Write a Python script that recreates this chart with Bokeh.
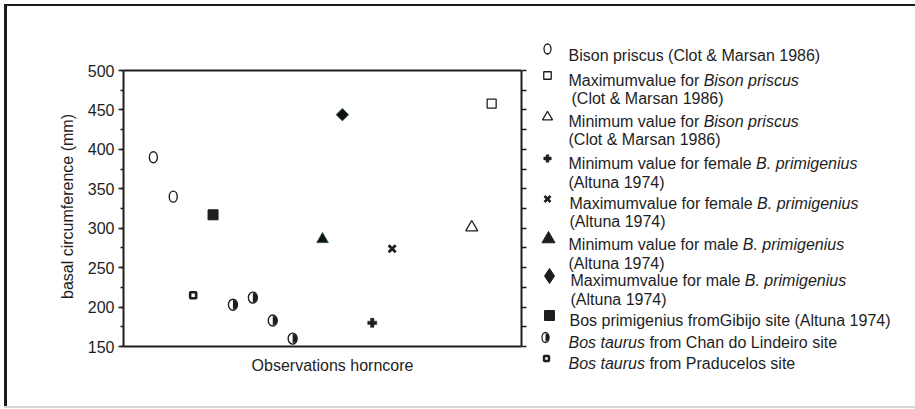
import numpy as np
from bokeh.plotting import figure
from bokeh.models import (Range1d, LinearAxis, SingleIntervalTicker, Span, Spacer, Div,
                          CustomJSTickFormatter)
from bokeh.layouts import row, column
from bokeh.embed import file_html
from bokeh.resources import INLINE
from bokeh.core.properties import value

# ---------------- data ----------------
bison_x = [1, 2]
bison_y = [390, 340]
praducelos_x = [3]
praducelos_y = [215]
gibijo_x = [4]
gibijo_y = [317]
lindeiro_x = [5, 6, 7, 8]
lindeiro_y = [203, 212, 183, 160]
male_min_x = [9.5]
male_min_y = [286]
male_max_x = [10.5]
male_max_y = [444]
female_min_x = [12]
female_min_y = [180]
female_max_x = [13]
female_max_y = [274]
bison_min_x = [17]
bison_min_y = [301]
bison_max_x = [18]
bison_max_y = [458]

Y_MIN, Y_MAX = 150, 500
X_MIN, X_MAX = -0.5, 19.5
y_label = "basal circumference (mm)"
x_label = "Observations horncore"

legend_lines = [
    [("Bison priscus (Clot & Marsan 1986)", False)],
    [("Maximumvalue for ", False), ("Bison priscus", True)],
    [("(Clot & Marsan 1986)", False)],
    [("Minimum value for ", False), ("Bison priscus", True)],
    [("(Clot & Marsan 1986)", False)],
    [("Minimum value for female ", False), ("B. primigenius", True)],
    [("(Altuna 1974)", False)],
    [("Maximumvalue for female ", False), ("B. primigenius", True)],
    [("(Altuna 1974)", False)],
    [("Minimum value for male ", False), ("B. primigenius", True)],
    [("(Altuna 1974)", False)],
    [("Maximumvalue for male ", False), ("B. primigenius", True)],
    [("(Altuna 1974)", False)],
    [("Bos primigenius fromGibijo site (Altuna 1974)", False)],
    [("Bos taurus", True), (" from Chan do Lindeiro site", False)],
    [("Bos taurus", True), (" from Praducelos site", False)],
]

# ---------------- style / layout (page pixel geometry) ----------------
FONT = "Liberation Sans"
INK = "#1e1e1e"
DARK = "#1c1c1c"
GREY = "#d6d6d6"
EDGE = "#17705a"
FS = "16px"

PX0, PY0 = 4, 4            # page position of the outer frame
BAR_T, BAR_L, BAR_B = 2, 3, 2
ROW_H = 400
MAIN_X1 = 530              # page x where the legend panel starts
TOTAL_W = 911
FR_L, FR_R, FR_T, FR_B = 123, 521, 70, 346   # plot box in page pixels

row_top = PY0 + BAR_T
row_bot = row_top + ROW_H
main_x0 = PX0 + BAR_L

k = (FR_B - FR_T) / (Y_MAX - Y_MIN)
y_top = Y_MAX + (FR_T - row_top) / k
y_bot = Y_MIN - (row_bot - FR_B) / k
kx = (FR_R - FR_L) / (X_MAX - X_MIN)


def px2x(px):
    return X_MIN + (px - FR_L) / kx


def py2y(py):
    return Y_MAX - (py - FR_T) / k


def bar(w, h, color):
    return Div(text="", width=w, height=h,
               styles={"background-color": color, "width": f"{w}px", "height": f"{h}px",
                       "min-height": f"{h}px", "overflow": "hidden", "padding": "0",
                       "margin": "0", "line-height": "0", "font-size": "0"})


p = figure(width=MAIN_X1 - main_x0, height=ROW_H, x_range=Range1d(X_MIN, X_MAX),
           y_range=Range1d(y_bot, y_top), output_backend="svg", toolbar_location=None,
           x_axis_location=None, y_axis_location="left",
           min_border_left=FR_L - main_x0, min_border_right=MAIN_X1 - FR_R,
           min_border_top=0, min_border_bottom=0)
p.grid.visible = False
p.outline_line_color = None
p.background_fill_color = "white"
p.border_fill_color = "white"

ya = p.yaxis[0]
ya.bounds = (Y_MIN, Y_MAX)
ya.ticker = SingleIntervalTicker(interval=50, num_minor_ticks=2)
ya.axis_line_color = INK
ya.axis_line_width = 2
ya.major_tick_out = 5
ya.major_tick_in = 0
ya.minor_tick_out = 3
ya.minor_tick_in = 0
ya.major_tick_line_color = INK
ya.minor_tick_line_color = INK
ya.major_tick_line_width = 1.5
ya.minor_tick_line_width = 1.5
ya.major_label_standoff = 4
ya.major_label_text_font = FONT
ya.major_label_text_font_size = FS
ya.major_label_text_color = INK
ya.axis_label = y_label
ya.axis_label_text_font = FONT
ya.axis_label_text_font_size = FS
ya.axis_label_text_font_style = "normal"
ya.axis_label_text_color = INK
ya.axis_label_standoff = 9

ra = LinearAxis(ticker=SingleIntervalTicker(interval=25, num_minor_ticks=0),
                formatter=CustomJSTickFormatter(code="return ''"))
ra.bounds = (Y_MIN, Y_MAX)
ra.axis_line_color = INK
ra.axis_line_width = 2
ra.major_tick_out = 5
ra.major_tick_in = 0
ra.minor_tick_line_color = None
ra.major_tick_line_color = INK
ra.major_tick_line_width = 1.5
ra.major_label_standoff = 0
p.add_layout(ra, "right")

for loc in (Y_MIN, Y_MAX):
    p.add_layout(Span(location=loc, dimension="width", line_color=INK, line_width=2))

p.text(x=[px2x(332)], y=[py2y(365)], text=[x_label], text_font=value(FONT),
       text_font_size=value(FS), text_color=INK, text_align="center",
       text_baseline="middle")

# markers
p.ellipse(x=bison_x, y=bison_y, width=8, height=11, width_units="screen",
          height_units="screen", fill_color="white", line_color=INK, line_width=1.4)
p.scatter(x=praducelos_x, y=praducelos_y, marker="square", size=6, fill_color="white",
          line_color=INK, line_width=2.6)
p.scatter(x=gibijo_x, y=gibijo_y, marker="square", size=10, fill_color=INK, line_color=INK)
p.ellipse(x=lindeiro_x, y=lindeiro_y, width=9, height=11, width_units="screen",
          height_units="screen", fill_color="white", line_color=None)
p.wedge(x=lindeiro_x, y=lindeiro_y, radius=4.6, radius_units="screen",
        start_angle=-np.pi / 2, end_angle=np.pi / 2, fill_color=INK, line_color=None)
p.ellipse(x=lindeiro_x, y=lindeiro_y, width=9, height=11, width_units="screen",
          height_units="screen", fill_color=None, line_color=INK, line_width=1.4)
p.scatter(x=male_min_x, y=male_min_y, marker="triangle", size=12, fill_color="#111111",
          line_color=EDGE, line_width=0.5)
p.scatter(x=male_max_x, y=male_max_y, marker="square", angle=np.pi / 4, size=9,
          fill_color="#111111", line_color=EDGE, line_width=0.5)
p.scatter(x=female_min_x, y=female_min_y, marker="plus", size=9, fill_color=INK,
          line_color=INK, line_width=0.5)
p.scatter(x=female_max_x, y=female_max_y, marker="x", size=10, line_color=INK, line_width=2.8)
p.scatter(x=bison_min_x, y=bison_min_y, marker="triangle", size=12, fill_color="white",
          line_color=INK, line_width=1.3)
p.scatter(x=bison_max_x, y=bison_max_y, marker="square", size=9, fill_color="white",
          line_color=INK, line_width=1.3)

# ---------------- legend panel (page-pixel coordinates) ----------------
LX0, LX1 = MAIN_X1, PX0 + TOTAL_W
leg = figure(width=LX1 - LX0, height=ROW_H, x_range=Range1d(LX0, LX1),
             y_range=Range1d(row_bot, row_top), output_backend="svg",
             toolbar_location=None, min_border=0, x_axis_location=None,
             y_axis_location=None)
leg.grid.visible = False
leg.outline_line_color = None
leg.background_fill_color = "white"
leg.border_fill_color = "white"

ARIAL = {' ': 278, 'M': 833, 'a': 556, 'x': 500, 'i': 222, 'm': 833, 'u': 556, 'v': 500,
         'l': 222, 'e': 556, 'f': 278, 'o': 556, 'r': 333, 'n': 556, 'B': 667, 's': 500,
         't': 278, '.': 278, 'p': 556, 'g': 556, 'c': 500, 'C': 722, '&': 667, '(': 333,
         ')': 333, 'A': 667, 'G': 778, 'j': 222, 'b': 556, 'd': 556, 'h': 556, 'L': 556,
         'P': 667, 'T': 611}


def tw(s):
    return sum(ARIAL.get(c, 556) for c in s) * 16 / 1000.0


line_x = [568, 568, 571, 568, 568, 568, 568, 569, 569, 568, 568, 570, 570, 569, 568, 568]
line_base = [55, 80, 98, 120.5, 139, 162.5, 181.5, 203, 221, 244, 263, 280, 299, 320, 341.5, 363]

seg = {False: dict(x=[], y=[], t=[]), True: dict(x=[], y=[], t=[])}
for lx, ly, parts in zip(line_x, line_base, legend_lines):
    cx = lx
    for txt, it in parts:
        s = txt.lstrip(" ")
        off = tw(txt[: len(txt) - len(s)])
        seg[it]["x"].append(cx + off)
        seg[it]["y"].append(ly)
        seg[it]["t"].append(s)
        cx += tw(txt)

for it in (False, True):
    leg.text(x=seg[it]["x"], y=seg[it]["y"], text=seg[it]["t"], text_font=value(FONT),
             text_font_size=value(FS), text_font_style="italic" if it else "normal",
             text_color=INK, text_baseline="alphabetic", text_align="left")

# legend keys
leg.ellipse(x=[547], y=[48.5], width=7, height=10, width_units="screen", height_units="screen",
            fill_color="white", line_color=INK, line_width=1.3)
leg.scatter(x=[547], y=[75], marker="square", size=7.5, fill_color="white", line_color=INK,
            line_width=1.3)
leg.scatter(x=[547], y=[116.5], marker="triangle", size=10, fill_color="white", line_color=INK,
            line_width=1.3)
leg.scatter(x=[547], y=[158], marker="plus", size=7.5, fill_color=INK, line_color=INK,
            line_width=0.5)
leg.scatter(x=[547], y=[198.5], marker="x", size=8.5, line_color=INK, line_width=2.6)
leg.scatter(x=[548], y=[238.5], marker="triangle", size=13, fill_color=INK, line_color=INK)
leg.scatter(x=[549], y=[275.5], marker="diamond", size=15, fill_color=INK, line_color=INK)
leg.scatter(x=[549], y=[315], marker="square", size=10, fill_color=INK, line_color=INK)
leg.ellipse(x=[545], y=[337], width=7, height=10, width_units="screen", height_units="screen",
            fill_color="white", line_color=None)
leg.wedge(x=[545], y=[337], radius=3.8, radius_units="screen", start_angle=-np.pi / 2,
          end_angle=np.pi / 2, fill_color=INK, line_color=None)
leg.ellipse(x=[545], y=[337], width=7, height=10, width_units="screen", height_units="screen",
            fill_color=None, line_color=INK, line_width=1.3)
leg.scatter(x=[546], y=[358], marker="square", size=5, fill_color="white", line_color=INK,
            line_width=2.4)

framed = column(
    bar(TOTAL_W, BAR_T, DARK),
    row(bar(BAR_L, ROW_H, DARK), p, leg),
    bar(TOTAL_W, BAR_B, GREY),
)
layout = column(Spacer(width=PX0 + TOTAL_W, height=PY0),
                row(Spacer(width=PX0, height=ROW_H + BAR_T + BAR_B), framed))

open("out.html", "w").write(file_html(layout, INLINE))
